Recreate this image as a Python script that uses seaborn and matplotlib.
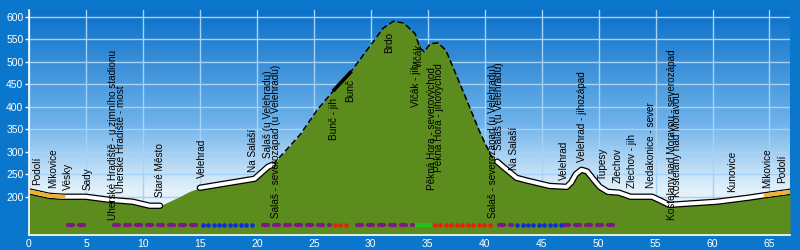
import numpy as np
import pandas as pd
import matplotlib
matplotlib.use("Agg")
import matplotlib.pyplot as plt
from matplotlib.colors import LinearSegmentedColormap
import seaborn as sns

plt.rcParams['font.family'] = ['Liberation Sans', 'DejaVu Sans']

# ---- elevation profile (km, m) ----
km = [0.0, 1.8, 3.0, 3.2, 5.0, 7.1, 9.1, 10.6, 11.5, 13.2, 14.1, 15.0, 19.8, 21.0, 21.4,
      23.8, 25.3, 26.8, 28.2, 29.7, 31.1, 32.0, 32.9, 33.9, 34.3, 34.7, 35.2, 35.9,
      36.6, 37.2, 38.4, 39.6, 40.6, 41.1, 41.6, 42.8, 43.7, 45.7, 47.2, 47.6, 48.0,
      48.5, 49.0, 49.5, 50.1, 50.8, 51.8, 52.8, 54.7, 55.3, 56.2, 57.4, 60.4, 63.2,
      64.5, 66.8]
elev = [212, 202, 200, 200, 200, 193, 189, 180, 180, 200, 212, 220, 240, 267, 271,
        338, 393, 438, 476, 527, 575, 590, 586, 562, 531, 522, 540, 542,
        525, 489, 416, 342, 289, 278, 267, 242, 236, 224, 222, 232, 250,
        260, 256, 240, 222, 211, 209, 200, 200, 193, 182, 184, 189, 198,
        203, 211]

# route sections
route_white = [(0.0, 11.5), (15.0, 21.4), (41.1, 66.8)]
route_orange = [(0.0, 3.2), (64.5, 66.8)]
route_dashed = [(21.4, 41.1)]
route_bold = [(26.8, 28.2)]

# surface markers (start km, end km)
purple_segs = [(3.2, 5.1), (7.3, 15.0), (20.3, 26.6), (28.6, 33.9), (41.1, 42.6), (46.8, 51.6)]
blue_segs = [(15.0, 19.7), (42.6, 46.8)]
red_segs = [(26.6, 28.0), (35.4, 40.6)]
green_segs = [(33.9, 35.4)]

# place labels
label_names = ["Podolí", "Míkovice", "Vésky", "Sady",
               "Uherské Hradiště - u zimního stadionu", "Uherské Hradiště - most",
               "Staré Město", "Velehrad", "Na Salaší", "Salaš (u Velehradu)",
               "Salaš - severozápad (u Velehradu)", "Bunč - jih", "Bunč", "Brdo",
               "Vlčák - jih", "Vlčák", "Pěkná Hora - severovýchod", "Pěkná Hora - jihovýchod",
               "Salaš - severozápad (u Velehradu)", "Salaš (u Velehradu)", "Na Salaší",
               "Velehrad", "Velehrad - jihozápad", "Tupesy", "Zlechov", "Zlechov - jih",
               "Nedakonice - sever", "Kostelany nad Moravou - severozápad",
               "Kostelany nad Moravou", "Kunovice", "Míkovice", "Podolí"]
label_km = [0.7, 2.1, 3.4, 5.1, 7.4, 8.1, 11.5, 15.2, 19.7, 21.0, 21.7, 26.8, 28.2, 31.6,
            34.0, 34.2, 35.4, 36.0, 40.7, 41.3, 42.6, 47.0, 48.5, 50.4, 51.7, 52.9,
            54.6, 56.4, 56.9, 61.7, 64.8, 66.1]
label_base = [227, 220, 216, 216, 149, 209, 200, 242, 256, 287, 153, 327, 411, 520,
              400, 487, 216, 256, 153, 304, 260, 238, 278, 238, 231, 220, 220, 149,
              200, 211, 220, 231]

x_ticks = list(range(0, 70, 5))
y_ticks = list(range(200, 650, 50))

df = pd.DataFrame({"km": km, "elev": elev})

BG = "#0a76cc"
GREEN = "#5c8c1e"
PURPLE = "#7b1c82"
BLUE = "#1428e0"
RED = "#e8200c"
LIME = "#22c21e"
ORANGE = "#f2b02c"
MARK_Y = 138

fig = plt.figure(figsize=(8, 2.5), dpi=100, facecolor=BG)
ax = fig.add_axes([29 / 800, 15 / 250, 761 / 800, 225 / 250])
ax.set_facecolor(BG)
ax.set_xlim(0, 66.8)
ax.set_ylim(115, 615)

# sky gradient
cmap = LinearSegmentedColormap.from_list(
    "sky", [(0.0, "#eef7fd"), (0.2, "#e2f1fb"), (0.5, "#6eb2ea"), (1.0, "#0b70c8")])
grad = np.linspace(0, 1, 256).reshape(-1, 1)
ax.imshow(grad, cmap=cmap, aspect="auto", extent=[0, 1, 0, 1],
          transform=ax.transAxes, origin="lower", zorder=-2)

ax.set_axisbelow(True)
ax.grid(True, color="#a6d2f6", lw=1.0)

# terrain
ax.fill_between(df["km"], df["elev"], 115, color=GREEN, lw=0, zorder=2)


def section(a, b):
    return df[(df["km"] >= a - 1e-9) & (df["km"] <= b + 1e-9)]


for a, b in route_dashed:
    sns.lineplot(data=section(a, b), x="km", y="elev", color="black", lw=1.1,
                 estimator=None, sort=False, linestyle=(0, (4, 2)), ax=ax, zorder=3)
for a, b in route_bold:
    sns.lineplot(data=section(a, b), x="km", y="elev", color="black", lw=2.6,
                 estimator=None, sort=False, ax=ax, zorder=3)
for a, b in route_white:
    s = section(a, b)
    sns.lineplot(data=s, x="km", y="elev", color="black", lw=4.6, estimator=None,
                 sort=False, ax=ax, zorder=3, solid_joinstyle="round", solid_capstyle="round")
    sns.lineplot(data=s, x="km", y="elev", color="white", lw=2.8, estimator=None,
                 sort=False, ax=ax, zorder=4, solid_joinstyle="round", solid_capstyle="round")
for a, b in route_orange:
    sns.lineplot(data=section(a, b), x="km", y="elev", color=ORANGE, lw=2.8,
                 estimator=None, sort=False, ax=ax, zorder=5, solid_capstyle="butt")

# surface markers
for a, b in purple_segs:
    sns.lineplot(x=[a + 0.2, b - 0.2], y=[MARK_Y, MARK_Y], color=PURPLE, lw=3.0,
                 linestyle=(0, (1.2, 1.44)), ax=ax, zorder=5)
    ax.lines[-1].set_dash_capstyle("round")
for segs, col in ((blue_segs, BLUE), (red_segs, RED)):
    for a, b in segs:
        xs = np.arange(a + 0.24, b, 0.48)
        sns.scatterplot(x=xs, y=np.full(len(xs), MARK_Y), color=col, s=11,
                        linewidth=0, ax=ax, zorder=5)
for a, b in green_segs:
    sns.lineplot(x=[a, b], y=[MARK_Y, MARK_Y], color=LIME, lw=3.0,
                 solid_capstyle="butt", ax=ax, zorder=5)

# labels
for name, x, y in zip(label_names, label_km, label_base):
    ax.text(x, y, name, rotation=90, ha="center", va="bottom", fontsize=7.2,
            color="black", zorder=6)

ax.set_xticks(x_ticks)
ax.set_yticks(y_ticks)
ax.set_xlabel("")
ax.set_ylabel("")
ax.tick_params(axis="x", length=0, pad=3, labelsize=7.5, colors="white")
ax.tick_params(axis="y", length=3, width=1, pad=1, labelsize=7.5, colors="white")
for sp in ("top", "right"):
    ax.spines[sp].set_visible(False)
for sp in ("left", "bottom"):
    ax.spines[sp].set_color("white")
    ax.spines[sp].set_linewidth(1.2)
    ax.spines[sp].set_zorder(7)

fig.savefig("out.png", dpi=100, facecolor=BG)
